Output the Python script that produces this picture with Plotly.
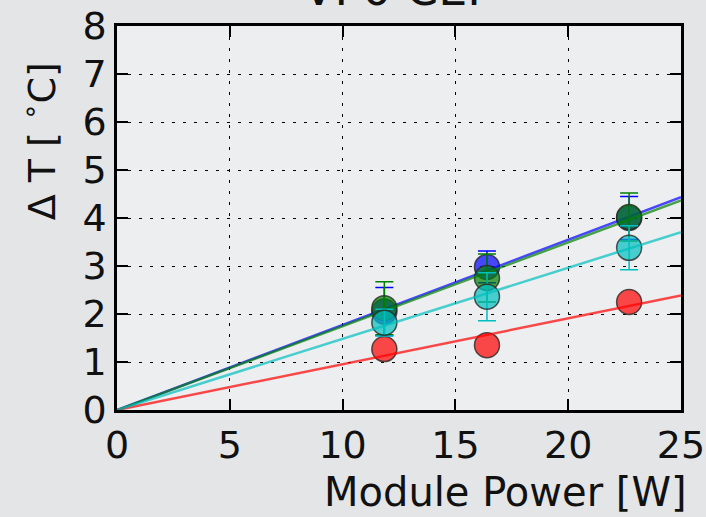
import numpy as np
import plotly.graph_objects as go

# Module power (W) at which the temperature rise was measured
power = [11.85, 16.4, 22.7]

# Temperature rise per sensor series, with uncertainties
dt_blue = [2.05, 2.98, 4.00]
err_blue = [0.50, 0.33, 0.45]
dt_green = [2.12, 2.75, 4.02]
err_green = [0.55, 0.50, 0.50]
dt_red = [1.27, 1.35, 2.25]
err_red = [0.0, 0.0, 0.0]
dt_cyan = [1.82, 2.36, 3.38]
err_cyan = [0.28, 0.50, 0.46]

x_ticks = [0, 5, 10, 15, 20, 25]
y_ticks = [0, 1, 2, 3, 4, 5, 6, 7, 8]

series = [
    (dt_blue, err_blue, (0, 0, 255)),
    (dt_green, err_green, (0, 128, 0)),
    (dt_red, err_red, (255, 0, 0)),
    (dt_cyan, err_cyan, (0, 191, 191)),
]

fig = go.Figure()
x_arr = np.array(power)
x_line = np.array([0.0, 25.0])
for dt, err, (r, g, b) in series:
    y_arr = np.array(dt)
    # least-squares slope of a line through the origin
    slope = float((x_arr * y_arr).sum() / (x_arr * x_arr).sum())
    fig.add_trace(go.Scatter(
        x=power, y=dt, mode="markers",
        marker=dict(size=25, color=f"rgba({r},{g},{b},0.7)",
                    line=dict(color="rgba(40,40,40,0.8)", width=1.5)),
        error_y=dict(type="data", array=err, color=f"rgb({r},{g},{b})",
                     thickness=1.5, width=9, visible=max(err) > 0),
        showlegend=False,
    ))
    fig.add_trace(go.Scatter(
        x=x_line, y=slope * x_line, mode="lines",
        line=dict(color=f"rgba({r},{g},{b},0.7)", width=2.5),
        showlegend=False,
    ))

axis_common = dict(
    showline=True, linecolor="black", linewidth=2.5, mirror="allticks",
    ticks="inside", ticklen=11, tickwidth=1.5, tickcolor="black",
    showgrid=True, gridcolor="black", gridwidth=1, griddash="3px,8px",
    zeroline=False, automargin=False,
    tickfont=dict(family="DejaVu Sans", size=38, color="#111"),
)

fig.update_xaxes(range=[0, 25], tickvals=x_ticks, **axis_common)
fig.update_yaxes(range=[0, 8], tickvals=y_ticks, **axis_common)

fig.update_layout(
    width=706, height=517,
    margin=dict(l=117, r=25, t=26, b=107),
    paper_bgcolor="#e4e5e7", plot_bgcolor="#eceef0",
    annotations=[
        dict(text="VP0 CEP", xref="paper", yref="paper", x=0.5, y=1.02,
             xanchor="center", yanchor="bottom", showarrow=False,
             font=dict(family="DejaVu Sans", size=46, color="#111")),
        dict(text="Module Power [W]", xref="paper", yref="paper", x=1.015, y=-0.148,
             xanchor="right", yanchor="top", showarrow=False,
             font=dict(family="DejaVu Sans", size=40, color="#111")),
        dict(text="Δ T [ <sup>∘</sup>C]", xref="paper", yref="paper",
             x=-0.138, y=0.7, xanchor="center", yanchor="middle", textangle=-90,
             showarrow=False,
             font=dict(family="DejaVu Sans", size=38, color="#111")),
    ],
)

fig.write_html("out.html")
